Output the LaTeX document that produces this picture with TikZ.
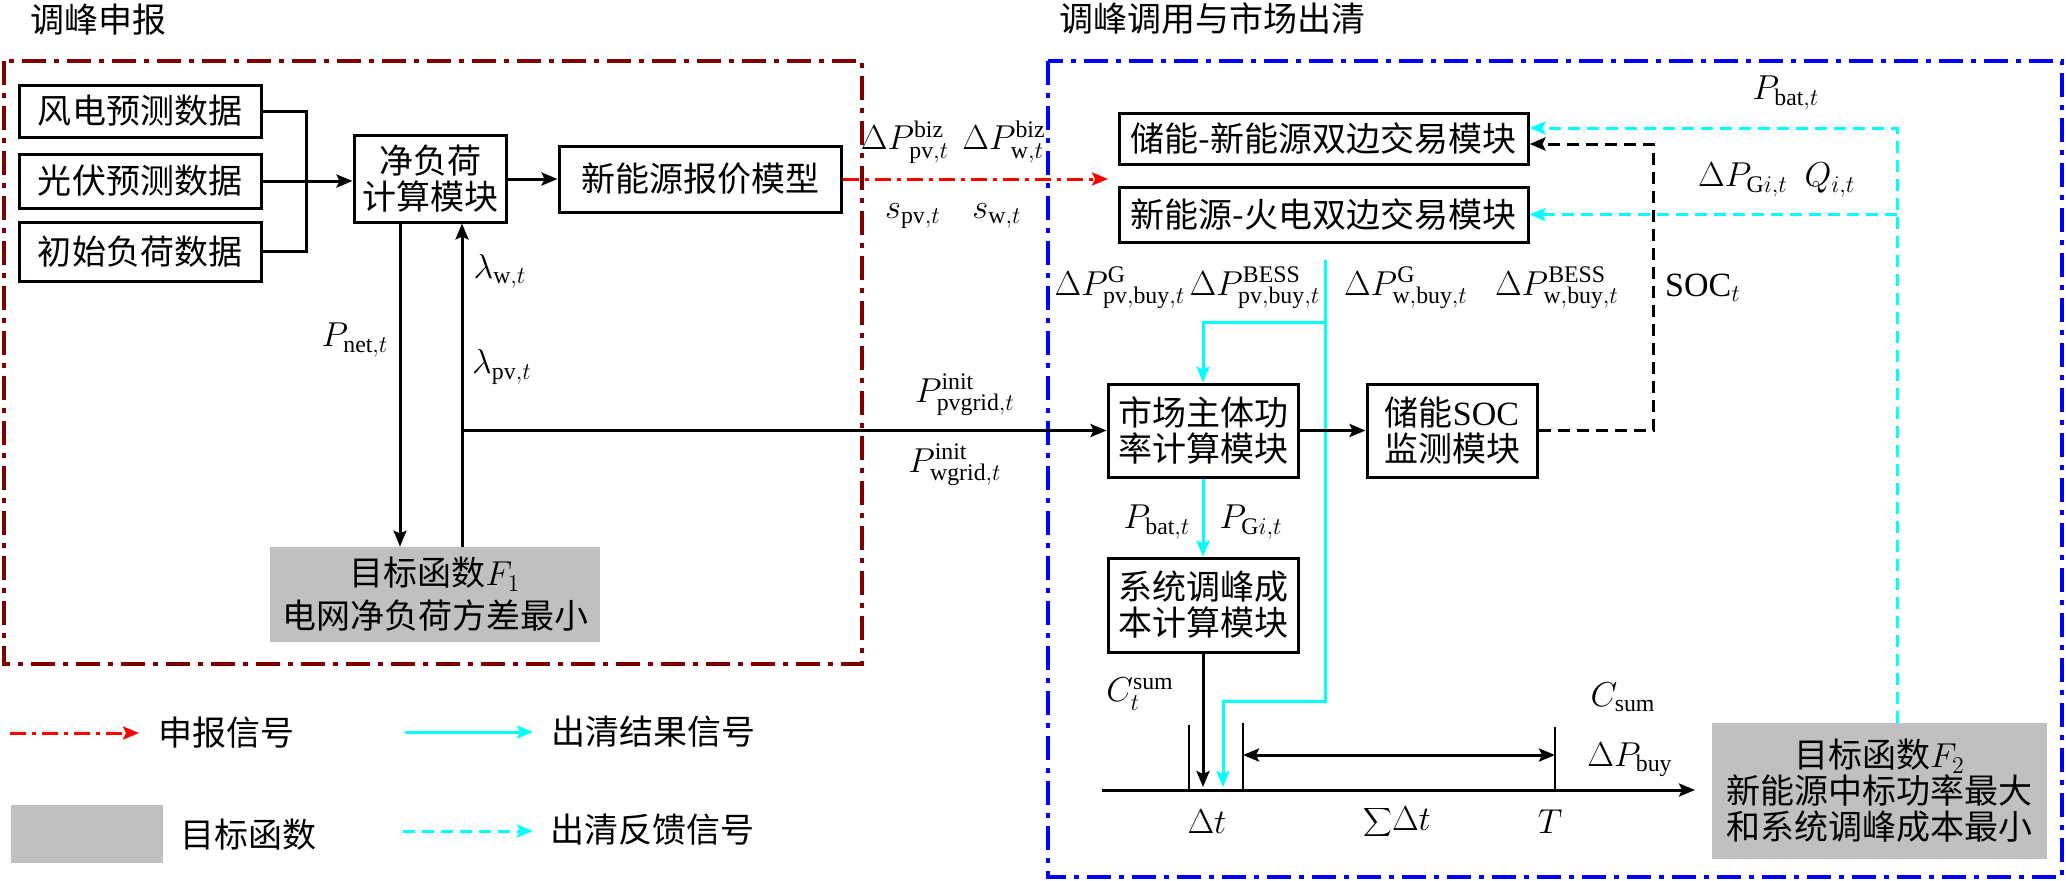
\documentclass[tikz,border=0pt]{standalone}
\usepackage{fontspec}
\setmainfont{Liberation Serif}
\newfontfamily\cjk{Noto Sans CJK SC}
\usetikzlibrary{arrows.meta}
\definecolor{dred}{RGB}{128,0,0}
\definecolor{lgray}{RGB}{192,192,192}
\definecolor{cyn}{RGB}{0,255,255}
\definecolor{blu}{RGB}{0,0,255}
\definecolor{rd}{RGB}{255,0,0}
\tikzset{
  fs/.style={font=\cjk\fontsize{17pt}{18pt}\selectfont},
  blk/.style={draw, line width=1.5pt, fs, align=center, inner sep=0pt},
  obj/.style={fill=lgray, fs, align=center, inner sep=0pt},
  lbl/.style={font=\fontsize{17pt}{19pt}\selectfont, inner sep=0pt},
  arw/.style={-{Stealth[length=8pt,width=6.5pt,inset=1.5pt]}},
  conn/.style={line width=1.5pt, arw},
  cyanarr/.style={cyn, line width=1.5pt, arw},
  cyandash/.style={cyn, line width=1.5pt, dash pattern=on 6pt off 3.5pt, arw},
  blkdash/.style={black, line width=1.5pt, dash pattern=on 6pt off 3.5pt, arw},
  reddash/.style={rd, line width=1.5pt, dash pattern=on 8pt off 3pt on 2pt off 3pt, arw},
  grpbox/.style={line width=1.8pt, dash pattern=on 12pt off 4pt on 2.5pt off 4pt},
  tick/.style={line width=1pt}
}
\begin{document}
\begin{tikzpicture}[x=0.5pt,y=-0.5pt]
\useasboundingbox (0,0) rectangle (2066,880);

% titles
\node[fs] (t1) at (99,20) {调峰申报};
\node[fs] (t2) at (1212,19) {调峰调用与市场出清};

% group boxes
\draw[grpbox, dred] (4,61) rectangle (862,664);
\draw[grpbox, blu] (1048,61) rectangle (2062,877);

% left nodes
\node[blk, minimum width=121pt, minimum height=26pt] (wind) at (140,111) {风电预测数据};
\node[blk, minimum width=121pt, minimum height=27pt] (pv) at (140,181) {光伏预测数据};
\node[blk, minimum width=121pt, minimum height=29.5pt] (load) at (140,251.5) {初始负荷数据};
\node[blk, minimum width=76pt, minimum height=43.5pt] (net) at (430,178.5) {净负荷\\计算模块};
\node[blk, minimum width=141pt, minimum height=33pt] (quote) at (700,179) {新能源报价模型};
\node[obj, minimum width=165pt, minimum height=47.5pt] (f1) at (435,594.5) {目标函数$F_1$\\[3.5pt]电网净负荷方差最小};

% right nodes
\node[blk, minimum width=204.5pt, minimum height=25.5pt] (st) at (1323.5,138.5) {储能-新能源双边交易模块};
\node[blk, minimum width=204.5pt, minimum height=27.5pt] (tp) at (1323.5,214.5) {新能源-火电双边交易模块};
\node[blk, minimum width=95pt, minimum height=46.5pt] (mkt) at (1203,430.5) {市场主体功\\率计算模块};
\node[blk, minimum width=85pt, minimum height=46.5pt] (soc) at (1452,430.5) {储能{\rmfamily SOC}\\监测模块};
\node[blk, minimum width=95pt, minimum height=47pt] (sys) at (1203,605) {系统调峰成\\本计算模块};
\node[obj, minimum width=167.5pt, minimum height=68pt] (f2) at (1879.5,791) {目标函数$F_2$\\新能源中标功率最大\\和系统调峰成本最小};

% left connectors
\coordinate (bx) at (306,181);
\draw[line width=1.5pt] (wind.east) -- (wind.east -| bx) -- (load.east -| bx) -- (load.east);
\draw[conn] (pv.east) -- (net.west |- pv.east);
\draw[conn] (net.east |- quote.west) -- (quote.west);
\coordinate (redend) at (1108,179);
\draw[reddash] (quote.east) -- (redend);
\coordinate (xa) at (400,0);
\coordinate (xb) at (462,0);
\draw[conn] (net.south -| xa) -- (f1.north -| xa);
\draw[conn] (f1.north -| xb) -- (net.south -| xb);
\coordinate (jn) at (462,430.5);
\draw[conn] (jn) -- (mkt.west);

% cyan solid
\coordinate (c0) at (1325,260);
\coordinate (c1) at (1325,322);
\coordinate (c2) at (1325,701);
\coordinate (c3) at (1223,701);
\coordinate (c4) at (1223,787);
\draw[cyanarr] (c0) -- (c2) -- (c3) -- (c4);
\draw[cyanarr] (c1) -- (c1 -| mkt.north) -- (mkt.north);
\draw[cyanarr] (mkt.south) -- (sys.north);

% black
\draw[conn] (mkt.east) -- (soc.west);
\coordinate (d1) at (1653,430.5);
\coordinate (d2) at (1653,144);
\draw[blkdash] (soc.east) -- (d1) -- (d2) -- (st.east |- d2);

% cyan dashed feedback
\coordinate (e1) at (1897,128);
\coordinate (e2) at (1897,214.5);
\draw[cyandash] (f2.north -| e1) -- (e1) -- (st.east |- e1);
\draw[cyandash] (e2) -- (tp.east |- e2);

% time axis
\coordinate (a0) at (1102,790);
\coordinate (a1) at (1695,790);
\coordinate (b4) at (1203,787);
\draw[conn] (a0) -- (a1);
\draw[conn] (sys.south) -- (b4);
\coordinate (k1) at (1189,725);
\coordinate (k2) at (1243,723);
\coordinate (k3) at (1555,727);
\draw[tick] (k1) -- (k1 |- a0);
\draw[tick] (k2) -- (k2 |- a0);
\draw[tick] (k3) -- (k3 |- a0);
\coordinate (h1) at (1243,755);
\coordinate (h2) at (1555,755);
\draw[line width=1.5pt, {Stealth[length=8pt,width=6.5pt,inset=1.5pt]}-{Stealth[length=8pt,width=6.5pt,inset=1.5pt]}] (h1) -- (h2);

% labels
\node[lbl] (l1) at (905,142) {$\Delta P^{\mathrm{biz}}_{\mathrm{pv},t}$};
\node[lbl] (l2) at (1004,142) {$\Delta P^{\mathrm{biz}}_{\mathrm{w},t}$};
\node[lbl] (l3) at (913,216) {$s_{\mathrm{pv},t}$};
\node[lbl] (l4) at (997,216) {$s_{\mathrm{w},t}$};
\node[lbl] (l5) at (355,340) {$P_{\mathrm{net},t}$};
\node[lbl] (l6) at (500,271) {$\lambda_{\mathrm{w},t}$};
\node[lbl] (l7) at (502,367) {$\lambda_{\mathrm{pv},t}$};
\node[lbl] (l8) at (965,395) {$P^{\mathrm{init}}_{\mathrm{pvgrid},t}$};
\node[lbl] (l9) at (955,465) {$P^{\mathrm{init}}_{\mathrm{wgrid},t}$};
\node[lbl] (l10) at (1120,288) {$\Delta P^{\mathrm{G}}_{\mathrm{pv,buy},t}$};
\node[lbl] (l11) at (1255,288) {$\Delta P^{\mathrm{BESS}}_{\mathrm{pv,buy},t}$};
\node[lbl] (l12) at (1406,288) {$\Delta P^{\mathrm{G}}_{\mathrm{w,buy},t}$};
\node[lbl] (l13) at (1557,288) {$\Delta P^{\mathrm{BESS}}_{\mathrm{w,buy},t}$};
\node[lbl] (l14) at (1703,288) {$\mathrm{SOC}_t$};
\node[lbl] (l15) at (1786,93) {$P_{\mathrm{bat},t}$};
\node[lbl] (l16) at (1743,180) {$\Delta P_{\mathrm{G}i,t}$};
\node[lbl] (l17) at (1830,180) {$Q_{i,t}$};
\node[lbl] (l18) at (1157,522) {$P_{\mathrm{bat},t}$};
\node[lbl] (l19) at (1251,522) {$P_{\mathrm{G}i,t}$};
\node[lbl] (l20) at (1140,694) {$C_t^{\mathrm{sum}}$};
\node[lbl] (l21) at (1623,697) {$C_{\mathrm{sum}}$};
\node[lbl] (l22) at (1630,760) {$\Delta P_{\mathrm{buy}}$};
\node[lbl] (l23) at (1207,822) {$\Delta t$};
\node[lbl] (l24) at (1397,822) {$\displaystyle\sum\!\Delta t$};
\node[lbl] (l25) at (1550,822) {$T$};

% legend
\coordinate (g1a) at (10,733);
\coordinate (g1b) at (139,733);
\draw[reddash] (g1a) -- (g1b);
\node[fs] (g1t) at (226,733) {申报信号};
\coordinate (g2a) at (405,732);
\coordinate (g2b) at (533,732);
\draw[cyanarr] (g2a) -- (g2b);
\node[fs] (g2t) at (653,732) {出清结果信号};
\node[obj, minimum width=76pt, minimum height=29pt] (g3) at (87,834) {};
\node[fs] (g3t) at (248,835) {目标函数};
\coordinate (g4a) at (403,831);
\coordinate (g4b) at (533,831);
\draw[cyandash] (g4a) -- (g4b);
\node[fs] (g4t) at (652,830) {出清反馈信号};
\end{tikzpicture}
\end{document}
